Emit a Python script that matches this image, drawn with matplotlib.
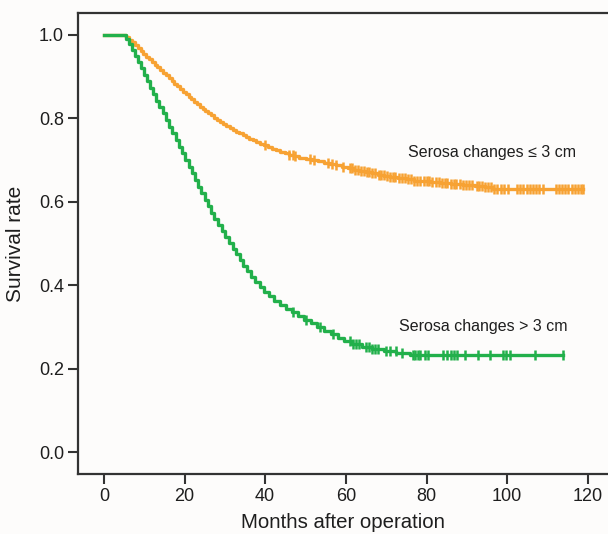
import numpy as np
import matplotlib
matplotlib.use("Agg")
import matplotlib.pyplot as plt

plt.rcParams['font.family'] = ['Liberation Sans', 'DejaVu Sans']

# ---- data ----
green_t = [0, 5.5, 6.2, 7.0, 7.8, 8.5, 9.3, 10.0, 10.8, 11.5, 12.3, 13.0, 13.8, 14.6,
           15.4, 16.2, 17.0, 17.8, 18.6, 19.4, 20.2, 21.0, 21.8, 22.6, 23.4, 24.2, 25.0,
           25.8, 26.6, 27.4, 28.3, 29.2, 30.1, 31.0, 31.9, 32.8, 33.7, 34.6, 35.5, 36.5,
           37.5, 38.6, 39.8, 41.0, 42.3, 43.7, 45.1, 46.6, 48.1, 49.7, 51.3, 52.9, 54.5,
           56.2, 58.0, 59.5, 61.5, 64.0, 66.5, 69.5, 72.5, 76.0]
green_s = [1.0, 0.99, 0.978, 0.964, 0.95, 0.935, 0.92, 0.905, 0.89, 0.873, 0.858, 0.842,
           0.827, 0.812, 0.796, 0.78, 0.764, 0.748, 0.732, 0.717, 0.70, 0.684, 0.668, 0.652,
           0.636, 0.62, 0.604, 0.589, 0.574, 0.559, 0.545, 0.531, 0.516, 0.502, 0.488, 0.474,
           0.460, 0.446, 0.433, 0.420, 0.407, 0.395, 0.384, 0.373, 0.363, 0.353, 0.344,
           0.335, 0.326, 0.317, 0.309, 0.300, 0.291, 0.282, 0.274, 0.266, 0.259, 0.253,
           0.248, 0.243, 0.238, 0.233]
green_end = 113.8
green_cens = [47, 50, 53.6, 56.8, 61, 61.8, 62.5, 63.2, 65, 65.8, 66.5, 67.2, 68, 70, 71,
              72.4, 73.9, 76.6, 77.2, 77.8, 78.4, 79.6, 80.3, 84, 85, 86, 86.8, 87.5, 89.5,
              92.7, 95.7, 99, 99.8, 100.7, 106.9, 113.8]

orange_t = [0, 5.5, 6.2, 7.0, 7.7, 8.4, 9.1, 9.8, 10.5, 11.2, 11.9, 12.6, 13.3, 14.0, 14.7,
            15.4, 16.1, 16.8, 17.5, 18.2, 18.9, 19.6, 20.3, 21.0, 21.7, 22.4, 23.1, 23.8,
            24.5, 25.2, 25.9, 26.6, 27.3, 28.0, 28.8, 29.6, 30.4, 31.2, 32.0, 32.8, 33.6,
            34.4, 35.2, 36.0, 36.9, 37.8, 38.7, 39.6, 40.6, 41.6, 42.6, 43.7, 44.8, 46.0,
            47.2, 48.5, 50.0, 51.5, 53.0, 54.5, 56.0, 57.5, 59.0, 60.5, 62.0, 63.5, 65.0,
            66.5, 68.0, 69.5, 71.0, 73.0, 75.0, 77.0, 79.0, 81.0, 83.5, 86.0, 89.0, 92.0,
            94.5, 96.5]
orange_s = [1.0, 0.995, 0.989, 0.982, 0.975, 0.968, 0.962, 0.955, 0.948, 0.942, 0.935,
            0.929, 0.922, 0.916, 0.909, 0.903, 0.896, 0.889, 0.883, 0.877, 0.870, 0.864,
            0.858, 0.852, 0.846, 0.840, 0.834, 0.828, 0.823, 0.817, 0.812, 0.807, 0.802,
            0.797, 0.792, 0.787, 0.782, 0.777, 0.773, 0.768, 0.764, 0.759, 0.755, 0.751,
            0.747, 0.743, 0.739, 0.735, 0.731, 0.727, 0.723, 0.719, 0.716, 0.712, 0.709,
            0.706, 0.703, 0.700, 0.697, 0.694, 0.690, 0.687, 0.684, 0.681, 0.677, 0.674,
            0.671, 0.668, 0.665, 0.662, 0.660, 0.657, 0.654, 0.651, 0.649, 0.647, 0.645,
            0.643, 0.641, 0.639, 0.636, 0.631]
orange_end = 118.8
orange_cens = [40, 46, 46.8, 47.5, 51, 52, 55.5, 56.5, 57.5, 59.3, 61, 61.6, 62.2, 63.1,
               63.7, 64.4, 65.2, 65.8, 66.5, 67.2, 68.1, 68.7, 69.4, 70.2, 71, 71.6, 72.3,
               73.3, 74, 74.6, 75.3, 76.2, 77, 77.6, 78.3, 79.4, 80, 80.7, 81.4, 82.3, 83,
               83.8, 84.5, 85.2, 86, 86.7, 87.4, 88.2, 89.1, 89.8, 90.5, 91.2, 92.4, 93,
               93.7, 94.5, 95.2, 96, 96.8, 97.6, 98.5, 99.3, 100.2, 102.5, 103.3, 104,
               104.8, 105.6, 106.4, 107.2, 108, 109, 112, 112.8, 113.6, 114.4, 115.2, 116,
               116.8, 117.6, 118.3, 118.8]

label_le = "Serosa changes \u2264 3 cm"
label_gt = "Serosa changes > 3 cm"
x_ticks = [0, 20, 40, 60, 80, 100, 120]
y_ticks = [0.0, 0.2, 0.4, 0.6, 0.8, 1.0]

orange_c = "#f7a233"
green_c = "#22b04b"
dark = "#333333"
txt = "#1e1e1e"
bg = "#fdfcfb"

fig = plt.figure(figsize=(6.08, 5.34), dpi=100, facecolor=bg)
ax = fig.add_axes([0.128, 0.112, 0.872, 0.864], facecolor=bg)


def surv_at(times, surv, t):
    idx = np.searchsorted(times, t, side='right') - 1
    return np.asarray(surv)[idx]


for t, s, end, cens, c in [(orange_t, orange_s, orange_end, orange_cens, orange_c),
                           (green_t, green_s, green_end, green_cens, green_c)]:
    tt = list(t) + [end]
    ss = list(s) + [s[-1]]
    ax.step(tt, ss, where='post', color=c, lw=2.4, zorder=3)
    ax.plot(cens, surv_at(t, s, cens), linestyle='none', marker='|', ms=7.5, mew=1.8,
            color=c, zorder=4)

ax.text(75.4, 0.717, label_le, fontsize=11.5, color=txt, va='center', ha='left')
ax.text(73.1, 0.30, label_gt, fontsize=11.5, color=txt, va='center', ha='left')

ax.set_xlim(-6.45, 125.0)
ax.set_ylim(-0.053, 1.053)
ax.set_xticks(x_ticks)
ax.set_yticks(y_ticks)
ax.set_yticklabels([f"{v:.1f}" for v in y_ticks])
ax.tick_params(direction='out', length=7, width=1.5, color=dark, labelsize=13,
               labelcolor=txt, pad=3)
for side in ['left', 'bottom', 'top']:
    ax.spines[side].set_color(dark)
    ax.spines[side].set_linewidth(1.6)
ax.spines['right'].set_visible(False)

ax.set_xlabel("Months after operation", fontsize=14.7, color=txt, labelpad=6)
ax.set_ylabel("Survival rate", fontsize=15, color=txt, labelpad=10)

fig.savefig("out.png", dpi=100, facecolor=bg)
